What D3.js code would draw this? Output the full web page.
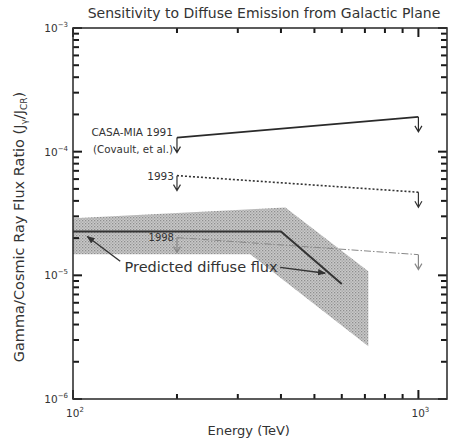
<!DOCTYPE html>
<html>
<head>
<meta charset="utf-8">
<script src="https://cdn.jsdelivr.net/npm/d3@7"></script>
<style>
  body { margin: 0; background: #fff; }
  text { font-family: "DejaVu Sans", sans-serif; fill: #333; }
</style>
</head>
<body>
<div id="chart"></div>
<script>
// --- values ---
const energyDomain = [100, 1210];          // TeV
const ratioDomain = [1e-6, 1e-3];
const energyMajor = [100, 1000];
const energyMinor = [200, 300, 400, 500, 600, 700, 800, 900];
const ratioMajor = [1e-6, 1e-5, 1e-4, 1e-3];

const limitEnergy = [200, 1000];
const casaMia1991 = [1.30e-4, 1.91e-4];
const limit1993 = [6.4e-5, 4.7e-5];
const limit1998 = [2.02e-5, 1.47e-5];

const predictedEnergy = [100, 400, 600];
const predictedRatio = [2.26e-5, 2.26e-5, 8.5e-6];

const bandEnergy = [100, 412, 716, 716, 326, 100];
const bandRatio = [2.9e-5, 3.53e-5, 1.08e-5, 2.67e-6, 1.48e-5, 1.48e-5];

const noteAnchor = [141, 1.06e-5];
const pointerTail = [[137, 1.30e-5], [398, 1.16e-5]];
const pointerTip = [[110, 2.06e-5], [537, 1.04e-5]];

// --- layout ---
const W = 457, H = 442;
const margin = { top: 28, right: 10, bottom: 43, left: 73 };
const plotW = W - margin.left - margin.right;
const plotH = H - margin.top - margin.bottom;

const svg = d3.select('#chart').append('svg')
  .attr('width', W).attr('height', H);

const defs = svg.append('defs');
const pat = defs.append('pattern')
  .attr('id', 'screen').attr('patternUnits', 'userSpaceOnUse')
  .attr('width', 3).attr('height', 3);
pat.append('rect').attr('width', 3).attr('height', 3).attr('fill', '#c9c9c9');
pat.append('rect').attr('width', 1.3).attr('height', 1.3).attr('fill', '#8e8e8e');
pat.append('rect').attr('x', 1.5).attr('y', 1.5).attr('width', 1.3).attr('height', 1.3).attr('fill', '#a2a2a2');

defs.append('marker')
  .attr('id', 'head').attr('viewBox', '0 0 10 10')
  .attr('refX', 9).attr('refY', 5)
  .attr('markerWidth', 8).attr('markerHeight', 8)
  .attr('markerUnits', 'userSpaceOnUse')
  .attr('orient', 'auto')
  .append('path').attr('d', 'M0,1 L10,5 L0,9 Z').attr('fill', '#333');

const g = svg.append('g')
  .attr('transform', `translate(${margin.left},${margin.top})`);

const x = d3.scaleLog().domain(energyDomain).range([0, plotW]);
const y = d3.scaleLog().domain(ratioDomain).range([plotH, 0]);

// shaded prediction band
g.append('path')
  .datum(d3.zip(bandEnergy, bandRatio))
  .attr('d', d3.line().x(d => x(d[0])).y(d => y(d[1])).curve(d3.curveLinearClosed))
  .attr('fill', 'url(#screen)');

// ticks: inward on all four sides, drawn as thin filled bars
const ratioMinor = [];
ratioMajor.slice(0, -1).forEach(v => { for (let k = 2; k <= 9; k++) ratioMinor.push(v * k); });

const tickG = g.append('g').attr('fill', '#1a1a1a');
const tw = 2;
function yTicks(vals, len) {
  tickG.selectAll(null).data(vals).enter().append('rect')
    .attr('x', 0).attr('y', d => y(d) - tw / 2).attr('width', len).attr('height', tw);
  tickG.selectAll(null).data(vals).enter().append('rect')
    .attr('x', plotW - len).attr('y', d => y(d) - tw / 2).attr('width', len).attr('height', tw);
}
function xTicks(vals, len) {
  tickG.selectAll(null).data(vals).enter().append('rect')
    .attr('x', d => x(d) - tw / 2).attr('y', plotH - len).attr('width', tw).attr('height', len);
  tickG.selectAll(null).data(vals).enter().append('rect')
    .attr('x', d => x(d) - tw / 2).attr('y', 0).attr('width', tw).attr('height', len);
}
yTicks(ratioMajor, 9);
yTicks(ratioMinor, 6);
xTicks(energyMajor, 9);
xTicks(energyMinor, 5);

g.append('rect')
  .attr('width', plotW).attr('height', plotH)
  .attr('fill', 'none').attr('stroke', '#333').attr('stroke-width', 1.6);

// tick labels with superscript exponents
function powLabel(sel, v) {
  const e = Math.round(Math.log10(v));
  sel.text('10');
  sel.append('tspan').attr('dy', -5).attr('font-size', 7)
    .text(e < 0 ? '\u2212' + (-e) : e);
}
ratioMajor.forEach(v => {
  g.append('text').attr('x', -5).attr('y', y(v) + 4)
    .attr('text-anchor', 'end').attr('font-size', 10.5)
    .call(powLabel, v);
});
energyMajor.forEach(v => {
  g.append('text').attr('x', x(v) + 2).attr('y', plotH + 18)
    .attr('text-anchor', 'middle').attr('font-size', 10.5)
    .call(powLabel, v);
});

// upper limit lines with down arrows at both ends
const arrowLen = 15;
function limitLine(vals, dash, color, w) {
  const pts = d3.zip(limitEnergy, vals);
  g.append('path').datum(pts)
    .attr('d', d3.line().x(d => x(d[0])).y(d => y(d[1])))
    .attr('fill', 'none').attr('stroke', color).attr('stroke-width', w)
    .attr('stroke-dasharray', dash);
  pts.forEach(p => {
    const px = x(p[0]), py = y(p[1]);
    g.append('path')
      .attr('d', `M${px},${py} V${py + arrowLen} M${px - 3.5},${py + arrowLen - 6} L${px},${py + arrowLen} L${px + 3.5},${py + arrowLen - 6}`)
      .attr('fill', 'none').attr('stroke', color).attr('stroke-width', 1.2);
  });
}
limitLine(casaMia1991, null, '#2a2a2a', 1.8);
limitLine(limit1993, '2,2', '#333', 1.6);
limitLine(limit1998, '7,2,1.5,2', '#888', 1);

// predicted flux line
g.append('path')
  .datum(d3.zip(predictedEnergy, predictedRatio))
  .attr('d', d3.line().x(d => x(d[0])).y(d => y(d[1])))
  .attr('fill', 'none').attr('stroke', '#333').attr('stroke-width', 2);

// labels for the limits
const labelX = x(limitEnergy[0]) - 4;
g.append('text').attr('x', labelX).attr('y', y(casaMia1991[0]) - 2)
  .attr('text-anchor', 'end').attr('font-size', 10.5).text('CASA-MIA 1991');
g.append('text').attr('x', labelX).attr('y', y(casaMia1991[0]) + 15)
  .attr('text-anchor', 'end').attr('font-size', 10.3).text('(Covault, et al.)');
g.append('text').attr('x', labelX + 1).attr('y', y(limit1993[0]) + 4)
  .attr('text-anchor', 'end').attr('font-size', 10.5).text('1993');
g.append('text').attr('x', labelX + 1).attr('y', y(limit1998[0]) + 3)
  .attr('text-anchor', 'end').attr('font-size', 10).text('1998');

// annotation
g.append('text').attr('x', x(noteAnchor[0])).attr('y', y(noteAnchor[1]))
  .attr('font-size', 14.5).text('Predicted diffuse flux');
pointerTail.forEach((t, i) => {
  const tip = pointerTip[i];
  g.append('line')
    .attr('x1', x(t[0])).attr('y1', y(t[1]))
    .attr('x2', x(tip[0])).attr('y2', y(tip[1]))
    .attr('stroke', '#333').attr('stroke-width', 1.4)
    .attr('marker-end', 'url(#head)');
});

// titles
svg.append('text').attr('x', 264).attr('y', 18)
  .attr('text-anchor', 'middle').attr('font-size', 14)
  .text('Sensitivity to Diffuse Emission from Galactic Plane');
svg.append('text').attr('x', margin.left + x(Math.sqrt(energyMajor[0] * energyMajor[1])) + 3).attr('y', 435)
  .attr('text-anchor', 'middle').attr('font-size', 13).text('Energy (TeV)');
const yl = svg.append('text')
  .attr('transform', 'translate(24,227) rotate(-90)')
  .attr('text-anchor', 'middle').attr('font-size', 14.5);
yl.append('tspan').text('Gamma/Cosmic Ray Flux Ratio  (J');
yl.append('tspan').attr('font-size', 9).attr('dy', 3).text('\u03b3');
yl.append('tspan').attr('dy', -3).text('/J');
yl.append('tspan').attr('font-size', 9).attr('dy', 3).text('CR');
yl.append('tspan').attr('dy', -3).text(')');
</script>
</body>
</html>
